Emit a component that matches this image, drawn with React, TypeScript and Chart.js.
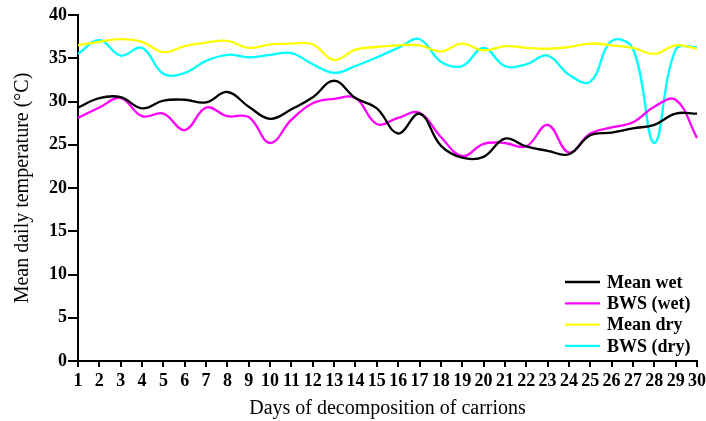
import React, { useEffect, useRef } from "react";
import { Chart, registerables } from "chart.js";

Chart.register(...registerables);

const days = Array.from({ length: 30 }, (_, i) => String(i + 1));

const meanWet = [29.3, 30.4, 30.5, 29.2, 30.1, 30.2, 29.9, 31.1, 29.4, 28.0, 29.1, 30.5, 32.4, 30.4, 29.2, 26.3, 28.6, 24.9, 23.5, 23.6, 25.7, 24.8, 24.3, 23.9, 26.1, 26.4, 26.9, 27.3, 28.6, 28.6];
const bwsWet = [28.1, 29.3, 30.4, 28.3, 28.6, 26.7, 29.3, 28.3, 28.2, 25.2, 27.9, 29.8, 30.3, 30.4, 27.4, 28.1, 28.7, 25.9, 23.7, 25.1, 25.2, 24.8, 27.3, 24.1, 26.3, 27.0, 27.6, 29.4, 30.2, 25.8];
const meanDry = [36.5, 36.9, 37.2, 36.9, 35.7, 36.4, 36.8, 37.0, 36.2, 36.6, 36.7, 36.6, 34.8, 36.0, 36.3, 36.5, 36.5, 35.8, 36.7, 35.9, 36.4, 36.2, 36.1, 36.3, 36.7, 36.5, 36.2, 35.5, 36.5, 36.1];
const bwsDry = [35.5, 37.1, 35.3, 36.2, 33.2, 33.3, 34.7, 35.4, 35.1, 35.4, 35.6, 34.3, 33.3, 34.1, 35.1, 36.2, 37.2, 34.6, 34.1, 36.2, 34.1, 34.3, 35.3, 33.1, 32.3, 37.0, 36.1, 25.2, 36.0, 36.3];

const legendLabels = ["Mean wet", "BWS (wet)", "Mean dry", "BWS (dry)"];
const seriesColors = ["#000000", "#ff00ff", "#ffff00", "#00ffff"];

const yTicks = [0, 5, 10, 15, 20, 25, 30, 35, 40];

const FONT = "'Liberation Serif', 'Times New Roman', serif";

export default function App() {
  const ref = useRef<HTMLCanvasElement | null>(null);

  useEffect(() => {
    if (!ref.current) return;
    const legendPlugin = {
      id: "customLegend",
      afterDraw(chart: any) {
        const ctx = chart.ctx;
        const ca = chart.chartArea;
        ctx.save();
        ctx.font = `bold 18px ${FONT}`;
        ctx.textBaseline = "middle";
        ctx.textAlign = "left";
        const x0 = ca.right - 132;
        const y0 = ca.bottom - 79;
        chart.data.datasets.forEach((ds: any, i: number) => {
          const y = y0 + i * 21.3;
          ctx.strokeStyle = ds.borderColor;
          ctx.lineWidth = 2.3;
          ctx.beginPath();
          ctx.moveTo(x0, y);
          ctx.lineTo(x0 + 35, y);
          ctx.stroke();
          ctx.fillStyle = "#000";
          ctx.fillText(ds.label, x0 + 42, y + 1);
        });
        ctx.restore();
      },
    };
    const series = [meanWet, bwsWet, meanDry, bwsDry];
    const chart = new Chart(ref.current, {
      type: "line",
      data: {
        labels: days,
        datasets: series.map((d, i) => ({
          label: legendLabels[i],
          data: d,
          borderColor: seriesColors[i],
          backgroundColor: seriesColors[i],
          borderWidth: 2.3,
          pointRadius: 0,
          tension: 0.4,
          fill: false,
        })),
      },
      options: {
        animation: false,
        responsive: false,
        maintainAspectRatio: false,
        layout: { padding: { left: 0, top: 15, right: 0, bottom: 0 } },
        plugins: {
          legend: { display: false },
          tooltip: { enabled: false },
        },
        scales: {
          x: {
            type: "category",
            offset: false,
            border: { display: true, color: "#000", width: 2 },
            grid: { display: true, drawOnChartArea: false, drawTicks: true, tickLength: 6, color: "#000", lineWidth: 2 },
            ticks: { autoSkip: false, maxRotation: 0, color: "#000", padding: 4, font: { family: FONT, size: 18, weight: "bold" } },
            title: { display: true, text: "Days of decomposition of carrions", color: "#000", font: { family: FONT, size: 20 }, padding: { top: 0, bottom: 0 } },
            afterFit(scale: any) {
              scale.height = 60;
              scale.paddingRight = 9;
              scale.paddingLeft = 0;
            },
          },
          y: {
            min: 0,
            max: 40,
            afterBuildTicks(scale: any) {
              scale.ticks = yTicks.map((v) => ({ value: v }));
            },
            border: { display: true, color: "#000", width: 2 },
            grid: { display: true, drawOnChartArea: false, drawTicks: true, tickLength: 10, color: "#000", lineWidth: 2 },
            ticks: { color: "#000", padding: 1, font: { family: FONT, size: 18, weight: "bold" } },
            title: { display: true, text: "Mean daily temperature (°C)", color: "#000", font: { family: FONT, size: 20 }, padding: { top: 11, bottom: 0 } },
            afterFit(scale: any) {
              scale.width = 78;
            },
          },
        },
      },
      plugins: [legendPlugin],
    });
    return () => chart.destroy();
  }, []);

  return (
    <div style={{ position: "fixed", left: 0, top: 0, width: 706, height: 421, background: "#fff" }}>
      <canvas ref={ref} width={706} height={421} style={{ display: "block", width: 706, height: 421 }} />
    </div>
  );
}
